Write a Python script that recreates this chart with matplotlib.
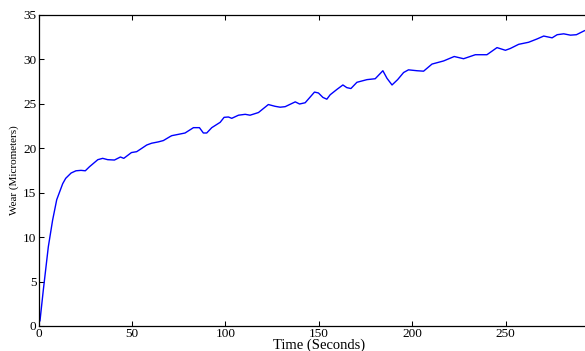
import matplotlib
matplotlib.use("Agg")
import matplotlib.pyplot as plt

# Wear measurements over time
time_s = [0, 0.75, 2.5, 5.2, 7.5, 9.7, 12.9, 14.5, 17.4, 20, 22.7, 25, 27.2,
          31.7, 34.3, 37, 40.6, 43.8, 45.6, 49.7, 52.5, 54.4, 57.9, 60.5, 64.1,
          66.8, 70.4, 71.3, 74.9, 78.4, 82.9, 86.1, 88.2, 90, 92.7, 97.2, 99.3,
          101.6, 103.4, 107, 110.6, 113.2, 117.7, 123, 126.6, 129.3, 132,
          137.4, 139.7, 142.7, 147.7, 149.8, 152.2, 154.3, 156.1, 159.7, 162.9,
          165, 167.2, 170.4, 175.8, 180.2, 184.3, 186.5, 189.2, 192.2, 195.4,
          198, 202.6, 206.1, 210.6, 216.8, 222.5, 227.5, 233.8, 240, 245.4,
          249.9, 252.5, 257, 262.3, 266.8, 270.4, 274.9, 277.6, 281.1, 284.7,
          287.9, 292.2]
wear_um = [0.3, 0.6, 4.0, 8.9, 11.9, 14.2, 16.0, 16.6, 17.2, 17.45, 17.5, 17.45,
           17.9, 18.7, 18.85, 18.7, 18.66, 19.0, 18.85, 19.5, 19.6, 19.86, 20.35,
           20.55, 20.7, 20.85, 21.3, 21.4, 21.55, 21.7, 22.3, 22.3, 21.7, 21.7,
           22.3, 22.9, 23.46, 23.5, 23.35, 23.7, 23.8, 23.7, 24.0, 24.9, 24.7,
           24.6, 24.66, 25.2, 24.96, 25.1, 26.3, 26.2, 25.7, 25.5, 26.0, 26.6,
           27.1, 26.8, 26.7, 27.4, 27.7, 27.8, 28.7, 27.85, 27.1, 27.7, 28.5,
           28.8, 28.7, 28.65, 29.45, 29.8, 30.3, 30.05, 30.5, 30.5, 31.3, 31.0,
           31.2, 31.67, 31.9, 32.27, 32.6, 32.4, 32.75, 32.85, 32.7, 32.75, 33.2]

x_ticks = [0, 50, 100, 150, 200, 250]
y_ticks = [0, 5, 10, 15, 20, 25, 30, 35]

plt.rcParams["font.family"] = ["Liberation Serif", "DejaVu Serif"]
plt.rcParams["font.size"] = 9

W, H = 585, 351
fig = plt.figure(figsize=(W / 100, H / 100), dpi=100)
left, right = 38.6 / W, 599.0 / W
bottom, top = 1 - 326.0 / H, 1 - 14.7 / H
ax = fig.add_axes([left, bottom, right - left, top - bottom])

ax.plot(time_s, wear_um, color="#0000ff", linewidth=1.0)

ax.set_xlim(0, 300)
ax.set_ylim(0, 35)
ax.set_xticks(x_ticks)
ax.set_yticks(y_ticks)
ax.tick_params(direction="in", length=3.5, width=0.75, top=True, right=True,
               labelsize=9.5, pad=1.5)
for s in ax.spines.values():
    s.set_linewidth(0.9)

ax.set_xlabel("Time (Seconds)", fontsize=10.5, labelpad=-1)
ax.set_ylabel("Wear (Micrometers)", fontsize=8)
ax_w_px = (right - left) * W
ax.yaxis.set_label_coords((19.0 - 38.6) / ax_w_px, 0.5)

fig.savefig("out.png", dpi=100)
